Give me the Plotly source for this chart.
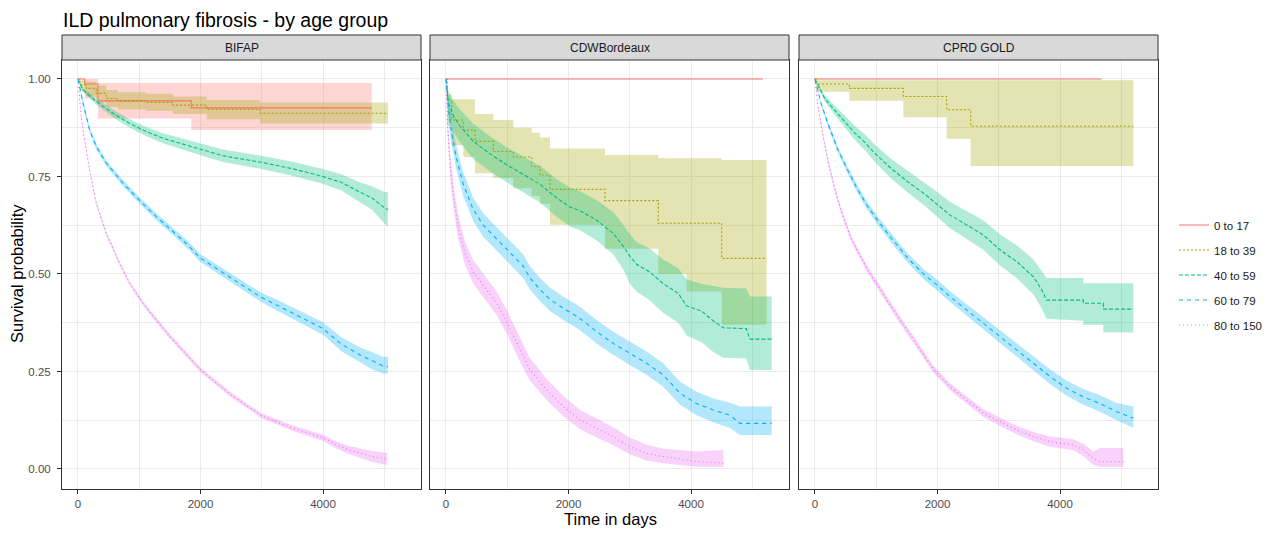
import plotly.graph_objects as go

TITLE = "ILD pulmonary fibrosis - by age group"
PANELS = ["BIFAP", "CDWBordeaux", "CPRD GOLD"]
GROUPS = ["0 to 17", "18 to 39", "40 to 59", "60 to 79", "80 to 150"]
X_TICKS = [0, 2000, 4000]
X_TICKTEXT = ["0", "2000", "4000"]
Y_TICKS = [0.0, 0.25, 0.5, 0.75, 1.0]
Y_TICKTEXT = ["0.00", "0.25", "0.50", "0.75", "1.00"]
X_TITLE = "Time in days"
Y_TITLE = "Survival probability"

# ---------------- BIFAP ----------------
BIFAP_0_17_T = [0, 109, 327, 1850, 4795]
BIFAP_0_17_S = [1.0, 0.987, 0.944, 0.926, 0.926]
BIFAP_0_17_LO = [1.0, 0.95, 0.899, 0.869, 0.869]
BIFAP_0_17_HI = [1.0, 1.0, 0.99, 0.99, 0.99]

BIFAP_18_39_T = [0, 30, 136, 299, 463, 653, 1116, 1551, 2100, 2971, 5061]
BIFAP_18_39_S = [1.0, 0.985, 0.976, 0.963, 0.95, 0.944, 0.94, 0.933, 0.922, 0.912, 0.912]
BIFAP_18_39_LO = [1.0, 0.97, 0.955, 0.94, 0.928, 0.922, 0.918, 0.91, 0.897, 0.886, 0.886]
BIFAP_18_39_HI = [1.0, 0.997, 0.993, 0.983, 0.972, 0.966, 0.962, 0.955, 0.946, 0.94, 0.94]

BIFAP_40_59_T = [0, 82, 299, 571, 844, 1116, 1388, 1660, 1986, 2367, 2971, 3500, 3951, 4300, 4600, 4800, 5000, 5060]
BIFAP_40_59_S = [1.0, 0.972, 0.942, 0.912, 0.886, 0.865, 0.848, 0.835, 0.82, 0.803, 0.787, 0.77, 0.752, 0.735, 0.71, 0.695, 0.67, 0.665]
BIFAP_40_59_LO = [1.0, 0.967, 0.934, 0.902, 0.875, 0.853, 0.835, 0.821, 0.805, 0.787, 0.77, 0.752, 0.733, 0.714, 0.685, 0.665, 0.63, 0.62]
BIFAP_40_59_HI = [1.0, 0.977, 0.95, 0.922, 0.897, 0.877, 0.861, 0.849, 0.835, 0.819, 0.804, 0.788, 0.771, 0.756, 0.735, 0.725, 0.71, 0.71]

BIFAP_60_79_T = [0, 82, 190, 299, 463, 735, 996, 1279, 1551, 1823, 1986, 2367, 2971, 3300, 3700, 4000, 4300, 4600, 4800, 4980, 5060]
BIFAP_60_79_S = [1.0, 0.938, 0.869, 0.827, 0.784, 0.733, 0.69, 0.647, 0.609, 0.57, 0.542, 0.503, 0.442, 0.416, 0.385, 0.36, 0.32, 0.293, 0.278, 0.264, 0.262]
BIFAP_60_79_LO = [1.0, 0.932, 0.862, 0.82, 0.777, 0.725, 0.682, 0.638, 0.6, 0.56, 0.532, 0.492, 0.43, 0.402, 0.37, 0.344, 0.302, 0.274, 0.256, 0.245, 0.245]
BIFAP_60_79_HI = [1.0, 0.944, 0.876, 0.834, 0.791, 0.741, 0.698, 0.656, 0.618, 0.58, 0.552, 0.514, 0.454, 0.43, 0.4, 0.376, 0.338, 0.312, 0.3, 0.288, 0.288]

BIFAP_80_150_T = [0, 54, 100, 190, 299, 463, 680, 844, 1061, 1200, 1500, 2000, 2500, 3000, 3500, 4000, 4200, 4400, 4800, 5050]
BIFAP_80_150_S = [1.0, 0.9, 0.85, 0.767, 0.681, 0.604, 0.527, 0.476, 0.425, 0.397, 0.34, 0.254, 0.19, 0.136, 0.105, 0.08, 0.063, 0.05, 0.032, 0.025]
BIFAP_80_150_LO = [1.0, 0.895, 0.845, 0.762, 0.676, 0.599, 0.522, 0.471, 0.419, 0.391, 0.334, 0.248, 0.184, 0.13, 0.098, 0.072, 0.054, 0.04, 0.018, 0.01]
BIFAP_80_150_HI = [1.0, 0.905, 0.855, 0.772, 0.686, 0.609, 0.532, 0.481, 0.431, 0.403, 0.346, 0.26, 0.196, 0.142, 0.112, 0.088, 0.072, 0.06, 0.046, 0.041]

# ---------------- CDWBordeaux ----------------
CDW_0_17_T = [0, 5175]
CDW_0_17_S = [1.0, 1.0]
CDW_0_17_LO = [1.0, 1.0]
CDW_0_17_HI = [1.0, 1.0]

CDW_18_39_T = [0, 20, 93, 283, 473, 773, 1099, 1399, 1535, 1698, 2596, 3466, 3929, 4501, 5235]
CDW_18_39_S = [1.0, 0.946, 0.895, 0.869, 0.84, 0.814, 0.80, 0.775, 0.754, 0.717, 0.688, 0.63, 0.63, 0.54, 0.54]
CDW_18_39_LO = [1.0, 0.88, 0.83, 0.80, 0.758, 0.746, 0.72, 0.70, 0.68, 0.626, 0.565, 0.50, 0.455, 0.37, 0.37]
CDW_18_39_HI = [1.0, 0.96, 0.948, 0.948, 0.91, 0.895, 0.875, 0.862, 0.85, 0.822, 0.805, 0.797, 0.797, 0.792, 0.792]

CDW_40_59_T = [0, 38, 120, 228, 446, 718, 990, 1262, 1535, 1807, 2024, 2188, 2460, 2732, 2900, 3004, 3112, 3330, 3548, 3793, 3929, 4173, 4364, 4527, 4900, 4963, 5317]
CDW_40_59_S = [1.0, 0.94, 0.905, 0.88, 0.84, 0.808, 0.78, 0.755, 0.73, 0.695, 0.672, 0.662, 0.638, 0.604, 0.57, 0.545, 0.525, 0.505, 0.475, 0.45, 0.418, 0.405, 0.38, 0.362, 0.36, 0.333, 0.333]
CDW_40_59_LO = [1.0, 0.91, 0.865, 0.838, 0.795, 0.763, 0.735, 0.709, 0.683, 0.647, 0.622, 0.612, 0.586, 0.55, 0.51, 0.475, 0.455, 0.432, 0.40, 0.375, 0.342, 0.325, 0.30, 0.285, 0.283, 0.254, 0.254]
CDW_40_59_HI = [1.0, 0.97, 0.945, 0.922, 0.885, 0.853, 0.825, 0.801, 0.777, 0.743, 0.722, 0.712, 0.69, 0.658, 0.625, 0.601, 0.582, 0.565, 0.537, 0.515, 0.486, 0.475, 0.47, 0.465, 0.463, 0.442, 0.442]

CDW_60_79_T = [0, 38, 92, 174, 283, 446, 610, 827, 1045, 1262, 1371, 1535, 1698, 1916, 2188, 2460, 2732, 3004, 3276, 3548, 3820, 4092, 4364, 4636, 4800, 5317]
CDW_60_79_S = [1.0, 0.93, 0.86, 0.795, 0.73, 0.665, 0.625, 0.59, 0.555, 0.52, 0.49, 0.46, 0.435, 0.412, 0.386, 0.352, 0.322, 0.297, 0.271, 0.241, 0.194, 0.168, 0.151, 0.138, 0.117, 0.117]
CDW_60_79_LO = [1.0, 0.9, 0.83, 0.765, 0.70, 0.635, 0.595, 0.56, 0.525, 0.49, 0.46, 0.43, 0.405, 0.382, 0.356, 0.322, 0.292, 0.267, 0.241, 0.211, 0.165, 0.138, 0.12, 0.105, 0.087, 0.087]
CDW_60_79_HI = [1.0, 0.955, 0.89, 0.825, 0.76, 0.695, 0.655, 0.62, 0.585, 0.55, 0.52, 0.49, 0.465, 0.442, 0.416, 0.382, 0.352, 0.327, 0.301, 0.271, 0.224, 0.198, 0.181, 0.17, 0.16, 0.16]

CDW_80_150_T = [0, 22, 65, 120, 201, 310, 446, 610, 827, 990, 1208, 1371, 1644, 1916, 2188, 2460, 2732, 3004, 3276, 3548, 4092, 4527]
CDW_80_150_S = [1.0, 0.895, 0.784, 0.70, 0.62, 0.553, 0.505, 0.47, 0.425, 0.378, 0.305, 0.254, 0.203, 0.16, 0.126, 0.104, 0.083, 0.057, 0.04, 0.032, 0.019, 0.015]
CDW_80_150_LO = [1.0, 0.87, 0.755, 0.67, 0.59, 0.523, 0.475, 0.44, 0.395, 0.348, 0.275, 0.226, 0.177, 0.135, 0.102, 0.081, 0.061, 0.037, 0.022, 0.015, 0.006, 0.006]
CDW_80_150_HI = [1.0, 0.92, 0.813, 0.73, 0.65, 0.583, 0.535, 0.5, 0.455, 0.408, 0.335, 0.284, 0.231, 0.187, 0.152, 0.13, 0.107, 0.08, 0.062, 0.052, 0.045, 0.049]

# ---------------- CPRD GOLD ----------------
CPRD_0_17_T = [0, 4680]
CPRD_0_17_S = [1.0, 1.0]
CPRD_0_17_LO = [1.0, 1.0]
CPRD_0_17_HI = [1.0, 1.0]

CPRD_18_39_T = [0, 20, 561, 1442, 2150, 2542, 5197]
CPRD_18_39_S = [1.0, 0.987, 0.976, 0.955, 0.921, 0.879, 0.879]
CPRD_18_39_LO = [1.0, 0.967, 0.944, 0.902, 0.847, 0.777, 0.777]
CPRD_18_39_HI = [1.0, 0.997, 0.997, 0.997, 0.997, 0.997, 0.997]

CPRD_40_59_T = [0, 158, 321, 484, 648, 811, 974, 1246, 1518, 1791, 1981, 2204, 2476, 2748, 3020, 3292, 3564, 3700, 3782, 4381, 4381, 4707, 4707, 5197]
CPRD_40_59_S = [1.0, 0.95, 0.92, 0.89, 0.862, 0.838, 0.81, 0.77, 0.736, 0.705, 0.68, 0.651, 0.626, 0.60, 0.562, 0.532, 0.493, 0.46, 0.433, 0.433, 0.425, 0.425, 0.41, 0.41]
CPRD_40_59_LO = [1.0, 0.942, 0.908, 0.875, 0.844, 0.818, 0.788, 0.745, 0.708, 0.675, 0.648, 0.617, 0.59, 0.562, 0.522, 0.49, 0.448, 0.412, 0.385, 0.38, 0.37, 0.37, 0.35, 0.35]
CPRD_40_59_HI = [1.0, 0.958, 0.932, 0.905, 0.88, 0.858, 0.832, 0.795, 0.764, 0.735, 0.712, 0.685, 0.662, 0.638, 0.602, 0.574, 0.538, 0.508, 0.49, 0.49, 0.476, 0.476, 0.476, 0.476]

CPRD_60_79_T = [0, 103, 212, 375, 539, 702, 865, 1029, 1246, 1518, 1791, 2008, 2204, 2476, 2748, 3020, 3292, 3564, 3837, 4109, 4381, 4653, 4925, 5197]
CPRD_60_79_S = [1.0, 0.935, 0.885, 0.818, 0.765, 0.715, 0.672, 0.636, 0.592, 0.54, 0.497, 0.47, 0.442, 0.408, 0.374, 0.339, 0.305, 0.271, 0.237, 0.207, 0.185, 0.168, 0.147, 0.13]
CPRD_60_79_LO = [1.0, 0.93, 0.878, 0.81, 0.756, 0.705, 0.662, 0.625, 0.58, 0.528, 0.484, 0.456, 0.428, 0.393, 0.358, 0.322, 0.288, 0.253, 0.218, 0.188, 0.165, 0.147, 0.125, 0.106]
CPRD_60_79_HI = [1.0, 0.94, 0.892, 0.826, 0.774, 0.725, 0.682, 0.647, 0.604, 0.552, 0.51, 0.484, 0.456, 0.423, 0.39, 0.356, 0.322, 0.289, 0.256, 0.226, 0.205, 0.189, 0.169, 0.16]

CPRD_80_150_T = [0, 49, 131, 212, 321, 430, 593, 844, 1116, 1388, 1660, 1932, 2204, 2476, 2748, 3020, 3292, 3564, 3837, 4218, 4381, 4545, 4653, 5034]
CPRD_80_150_S = [1.0, 0.93, 0.855, 0.79, 0.72, 0.66, 0.59, 0.515, 0.448, 0.382, 0.32, 0.256, 0.211, 0.177, 0.143, 0.121, 0.10, 0.083, 0.07, 0.062, 0.049, 0.027, 0.019, 0.019]
CPRD_80_150_LO = [1.0, 0.925, 0.848, 0.782, 0.712, 0.652, 0.582, 0.507, 0.439, 0.373, 0.311, 0.247, 0.202, 0.167, 0.133, 0.11, 0.089, 0.071, 0.057, 0.048, 0.033, 0.01, 0.006, 0.006]
CPRD_80_150_HI = [1.0, 0.935, 0.862, 0.798, 0.728, 0.668, 0.598, 0.523, 0.457, 0.391, 0.329, 0.265, 0.22, 0.187, 0.153, 0.132, 0.111, 0.095, 0.083, 0.076, 0.065, 0.045, 0.054, 0.054]

SERIES = {
    "BIFAP": [
        (BIFAP_0_17_T, BIFAP_0_17_S, BIFAP_0_17_LO, BIFAP_0_17_HI),
        (BIFAP_18_39_T, BIFAP_18_39_S, BIFAP_18_39_LO, BIFAP_18_39_HI),
        (BIFAP_40_59_T, BIFAP_40_59_S, BIFAP_40_59_LO, BIFAP_40_59_HI),
        (BIFAP_60_79_T, BIFAP_60_79_S, BIFAP_60_79_LO, BIFAP_60_79_HI),
        (BIFAP_80_150_T, BIFAP_80_150_S, BIFAP_80_150_LO, BIFAP_80_150_HI),
    ],
    "CDWBordeaux": [
        (CDW_0_17_T, CDW_0_17_S, CDW_0_17_LO, CDW_0_17_HI),
        (CDW_18_39_T, CDW_18_39_S, CDW_18_39_LO, CDW_18_39_HI),
        (CDW_40_59_T, CDW_40_59_S, CDW_40_59_LO, CDW_40_59_HI),
        (CDW_60_79_T, CDW_60_79_S, CDW_60_79_LO, CDW_60_79_HI),
        (CDW_80_150_T, CDW_80_150_S, CDW_80_150_LO, CDW_80_150_HI),
    ],
    "CPRD GOLD": [
        (CPRD_0_17_T, CPRD_0_17_S, CPRD_0_17_LO, CPRD_0_17_HI),
        (CPRD_18_39_T, CPRD_18_39_S, CPRD_18_39_LO, CPRD_18_39_HI),
        (CPRD_40_59_T, CPRD_40_59_S, CPRD_40_59_LO, CPRD_40_59_HI),
        (CPRD_60_79_T, CPRD_60_79_S, CPRD_60_79_LO, CPRD_60_79_HI),
        (CPRD_80_150_T, CPRD_80_150_S, CPRD_80_150_LO, CPRD_80_150_HI),
    ],
}

# ---------------- style ----------------
COLORS = ["#F8766D", "#A3A500", "#00BF7D", "#00B0F6", "#E76BF3"]
DASHES = ["solid", "2px,2px", "4px,2px", "4px,4px", "1px,3px"]
SHAPES = {
    "BIFAP": ["hv", "hv", "linear", "linear", "linear"],
    "CDWBordeaux": ["hv", "hv", "linear", "linear", "linear"],
    "CPRD GOLD": ["hv", "hv", "linear", "linear", "linear"],
}
FONT = "Liberation Sans, Arial, Helvetica, sans-serif"
# the page body adds an 8px margin, so the figure is 8px smaller and all
# pixel positions below (given in page pixels) are shifted by that margin
PAGE_OFF = 8
W, H = 1284 - PAGE_OFF, 534 - PAGE_OFF
PANEL_X = [(62, 421), (430, 789), (799, 1158)]
PANEL_Y = (60, 489)
STRIP_Y = (35, 60)
X_RANGE = [-261, 5600]
Y_RANGE = [-0.0513, 1.0487]


def hex_rgba(h, a):
    h = h.lstrip("#")
    return "rgba(%d,%d,%d,%.2f)" % (int(h[0:2], 16), int(h[2:4], 16), int(h[4:6], 16), a)


def fx(p):
    return (p - PAGE_OFF) / W


def fy(p):
    return 1 - (p - PAGE_OFF) / H


fig = go.Figure()

for pi, panel in enumerate(PANELS):
    xa = "x" if pi == 0 else "x%d" % (pi + 1)
    ya = "y" if pi == 0 else "y%d" % (pi + 1)
    # ribbons first
    for gi, grp in enumerate(GROUPS):
        t, s, lo, hi = SERIES[panel][gi]
        shp = SHAPES[panel][gi]
        fig.add_trace(go.Scatter(
            x=t, y=lo, xaxis=xa, yaxis=ya, mode="lines",
            line=dict(width=0, shape=shp, color=COLORS[gi]),
            showlegend=False, hoverinfo="skip", legendgroup=grp))
        fig.add_trace(go.Scatter(
            x=t, y=hi, xaxis=xa, yaxis=ya, mode="lines",
            line=dict(width=0, shape=shp, color=COLORS[gi]),
            fill="tonexty", fillcolor=hex_rgba(COLORS[gi], 0.3),
            showlegend=False, hoverinfo="skip", legendgroup=grp))
    # lines on top
    for gi, grp in enumerate(GROUPS):
        t, s, lo, hi = SERIES[panel][gi]
        fig.add_trace(go.Scatter(
            x=t, y=s, xaxis=xa, yaxis=ya, mode="lines", name=grp,
            line=dict(width=1.1, shape=SHAPES[panel][gi], color=COLORS[gi], dash=DASHES[gi]),
            legendgroup=grp, showlegend=(pi == 0)))

layout = dict(
    width=W, height=H, autosize=False,
    margin=dict(l=0, r=0, t=0, b=0),
    paper_bgcolor="white", plot_bgcolor="white",
    font=dict(family=FONT, color="#1A1A1A"),
    legend=dict(x=fx(1174), y=fy(275), xanchor="left", yanchor="middle",
                font=dict(size=11.5, color="#1A1A1A", family=FONT),
                tracegroupgap=6, bgcolor="rgba(0,0,0,0)", itemwidth=30),
    shapes=[], annotations=[],
)

for pi, panel in enumerate(PANELS):
    xk = "xaxis" if pi == 0 else "xaxis%d" % (pi + 1)
    yk = "yaxis" if pi == 0 else "yaxis%d" % (pi + 1)
    xa = "x" if pi == 0 else "x%d" % (pi + 1)
    ya = "y" if pi == 0 else "y%d" % (pi + 1)
    x0, x1 = PANEL_X[pi]
    layout[xk] = dict(
        domain=[fx(x0), fx(x1)], range=X_RANGE, anchor=ya,
        tickmode="array", tickvals=X_TICKS, ticktext=X_TICKTEXT,
        ticks="outside", ticklen=4, tickwidth=1, tickcolor="#333333",
        showline=True, mirror=True, linecolor="#333333", linewidth=1,
        showgrid=True, gridcolor="#EBEBEB", gridwidth=1.1, zeroline=False,
        minor=dict(tickvals=[1000, 3000, 5000], showgrid=True, gridcolor="#EBEBEB", gridwidth=0.6, ticks=""),
        tickfont=dict(size=11.5, color="#4D4D4D", family=FONT), fixedrange=True,
    )
    layout[yk] = dict(
        domain=[fy(PANEL_Y[1]), fy(PANEL_Y[0])], range=Y_RANGE, anchor=xa,
        tickmode="array", tickvals=Y_TICKS, ticktext=Y_TICKTEXT,
        ticks="outside" if pi == 0 else "", ticklen=4, tickwidth=1, tickcolor="#333333",
        ticklabelstandoff=4,
        showticklabels=(pi == 0),
        showline=True, mirror=True, linecolor="#333333", linewidth=1,
        showgrid=True, gridcolor="#EBEBEB", gridwidth=1.1, zeroline=False,
        minor=dict(tickvals=[0.125, 0.375, 0.625, 0.875], showgrid=True, gridcolor="#EBEBEB", gridwidth=0.6, ticks=""),
        tickfont=dict(size=11.5, color="#4D4D4D", family=FONT), fixedrange=True,
    )
    layout["shapes"].append(dict(
        type="rect", xref="paper", yref="paper",
        x0=fx(x0), x1=fx(x1), y0=fy(STRIP_Y[1]), y1=fy(STRIP_Y[0]),
        fillcolor="#D9D9D9", line=dict(color="#333333", width=1), layer="above"))
    layout["annotations"].append(dict(
        text=panel, xref="paper", yref="paper", x=fx((x0 + x1) / 2), y=fy(sum(STRIP_Y) / 2),
        xanchor="center", yanchor="middle", showarrow=False,
        font=dict(size=12, color="#1A1A1A", family=FONT)))

layout["annotations"].append(dict(
    text=TITLE, xref="paper", yref="paper", x=fx(61), y=fy(20),
    xanchor="left", yanchor="middle", showarrow=False,
    font=dict(size=19.5, color="#000000", family=FONT)))
layout["annotations"].append(dict(
    text=X_TITLE, xref="paper", yref="paper", x=fx(610), y=fy(519),
    xanchor="center", yanchor="middle", showarrow=False,
    font=dict(size=16.5, color="#000000", family=FONT)))
layout["annotations"].append(dict(
    text=Y_TITLE, xref="paper", yref="paper", x=fx(17), y=fy(274),
    xanchor="center", yanchor="middle", showarrow=False, textangle=-90,
    font=dict(size=16.5, color="#000000", family=FONT)))

fig.update_layout(**layout)
fig.write_html("out.html")
